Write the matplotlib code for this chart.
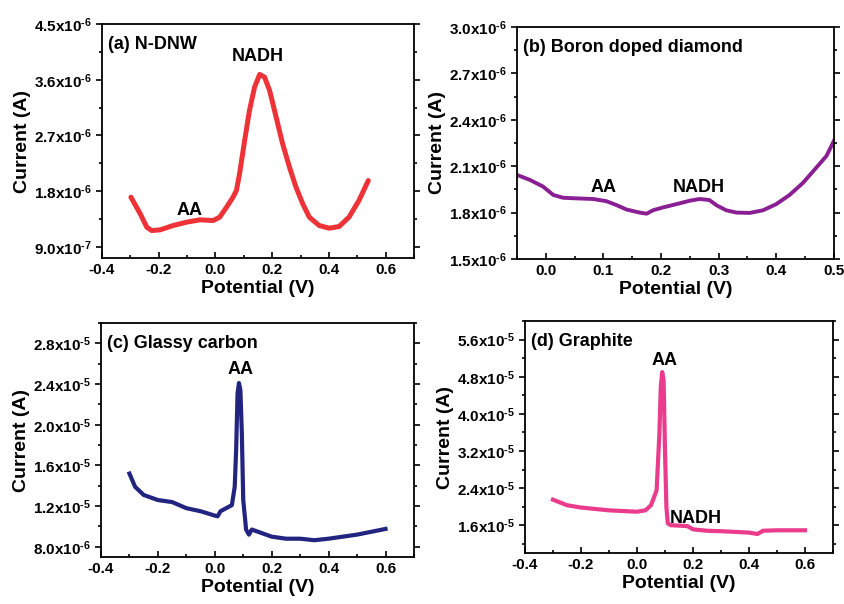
import matplotlib
matplotlib.use("Agg")
from matplotlib import pyplot as plt
from matplotlib.ticker import MultipleLocator, AutoMinorLocator, FuncFormatter

plt.rcParams['font.family'] = ['Liberation Sans', 'DejaVu Sans']
plt.rcParams['font.weight'] = 'bold'
plt.rcParams['mathtext.fontset'] = 'custom'
plt.rcParams['mathtext.rm'] = 'Liberation Sans:bold'
plt.rcParams['mathtext.bf'] = 'Liberation Sans:bold'
plt.rcParams['mathtext.default'] = 'bf'

# (a) N-DNW  (current in 1e-6 A)
a_x = [-0.298, -0.265, -0.242, -0.225, -0.195, -0.149, -0.102, -0.055, -0.008, 0.015,
       0.039, 0.062, 0.074, 0.085, 0.103, 0.120, 0.138, 0.156, 0.173, 0.191, 0.214,
       0.237, 0.261, 0.284, 0.308, 0.331, 0.366, 0.401, 0.436, 0.471, 0.506, 0.539]
a_y = [1.703, 1.433, 1.218, 1.164, 1.175, 1.245, 1.299, 1.337, 1.326, 1.380,
       1.541, 1.703, 1.811, 2.080, 2.619, 3.104, 3.481, 3.686, 3.643, 3.428, 2.996,
       2.565, 2.188, 1.865, 1.595, 1.380, 1.245, 1.202, 1.229, 1.380, 1.649, 1.972]

# (b) Boron doped diamond  (1e-6 A)
b_x = [-0.051, -0.028, -0.005, 0.013, 0.030, 0.053, 0.082, 0.105, 0.123, 0.140, 0.163,
       0.175, 0.186, 0.203, 0.227, 0.250, 0.267, 0.284, 0.296, 0.313, 0.331, 0.354,
       0.377, 0.400, 0.423, 0.446, 0.469, 0.487, 0.500]
b_y = [2.045, 2.012, 1.969, 1.914, 1.896, 1.892, 1.888, 1.874, 1.848, 1.820, 1.800,
       1.793, 1.815, 1.833, 1.855, 1.877, 1.888, 1.881, 1.848, 1.815, 1.800, 1.798,
       1.815, 1.855, 1.914, 1.991, 2.089, 2.166, 2.264]

# (c) Glassy carbon  (1e-6 A)
c_x = [-0.30, -0.28, -0.25, -0.20, -0.15, -0.10, -0.05, 0.00, 0.01, 0.02, 0.04, 0.06,
       0.07, 0.075, 0.08, 0.085, 0.09, 0.095, 0.10, 0.11, 0.12, 0.13, 0.15, 0.20,
       0.25, 0.30, 0.35, 0.40, 0.50, 0.60]
c_y = [15.2, 13.9, 13.1, 12.6, 12.4, 11.8, 11.5, 11.07, 11.0, 11.5, 11.8, 12.1,
       13.9, 17.5, 23.1, 24.1, 23.4, 19.2, 12.6, 9.7, 9.2, 9.7, 9.5, 9.0,
       8.8, 8.8, 8.65, 8.8, 9.2, 9.76]

# (d) Graphite  (1e-5 A)
d_x = [-0.30, -0.25, -0.20, -0.10, 0.00, 0.03, 0.05, 0.07, 0.08, 0.085, 0.09, 0.095,
       0.10, 0.105, 0.11, 0.12, 0.15, 0.18, 0.20, 0.25, 0.30, 0.40, 0.43, 0.45, 0.50, 0.60]
d_y = [2.15, 2.03, 1.98, 1.92, 1.89, 1.92, 2.03, 2.35, 3.57, 4.58, 4.90, 4.72,
       3.21, 1.99, 1.64, 1.60, 1.59, 1.58, 1.51, 1.48, 1.47, 1.44, 1.41, 1.48, 1.49, 1.49]


def sci_fmt(v, pos):
    # pick exponent like the original: mantissa between 1 and 10
    if v == 0:
        return '0'
    exp = 0
    m = abs(v)
    while m >= 10:
        m /= 10
        exp += 1
    while m < 1:
        m *= 10
        exp -= 1
    return '%.1fx10$^{\\text{-}%d}$' % (m, -exp)


def setup(ax, xlim, xstep, ylim, ystep, title):
    ax.set_xlim(*xlim)
    ax.set_ylim(*ylim)
    ax.xaxis.set_major_locator(MultipleLocator(xstep))
    ax.xaxis.set_minor_locator(AutoMinorLocator(2))
    ax.yaxis.set_major_locator(MultipleLocator(ystep))
    ax.yaxis.set_minor_locator(AutoMinorLocator(2))
    ax.yaxis.set_major_formatter(FuncFormatter(sci_fmt))
    ax.xaxis.set_major_formatter(FuncFormatter(lambda v, p: '%.1f' % v))
    ax.tick_params(axis='x', which='both', direction='in', top=False, labelsize=11, width=1.2)
    ax.tick_params(axis='y', which='both', direction='out', right=True, labelsize=11, width=1.2)
    ax.tick_params(which='major', length=4)
    ax.tick_params(which='minor', length=2.5)
    for s in ax.spines.values():
        s.set_linewidth(1.3)
    ax.set_xlabel('Potential (V)', fontsize=14, fontweight='bold', labelpad=2)
    ax.set_ylabel('Current (A)', fontsize=14, fontweight='bold', labelpad=2)
    ax.text(0.02, 0.95, title, transform=ax.transAxes, fontsize=13,
            fontweight='bold', va='top', ha='left')


fig = plt.figure(figsize=(8.45, 6.04), dpi=100)

ax1 = fig.add_axes([0.1207, 0.5728, 0.3692, 0.3874])
ax1.plot(a_x, [v * 1e-6 for v in a_y], color='#ee3338', lw=3.6,
         solid_capstyle='round', solid_joinstyle='round')
setup(ax1, (-0.4, 0.7), 0.2, (0.72e-6, 4.5e-6), 0.9e-6, '(a) N-DNW')
ax1.text(0.15, 3.9e-6, 'NADH', fontsize=13, fontweight='bold', ha='center')
ax1.text(-0.09, 1.42e-6, 'AA', fontsize=13, fontweight='bold', ha='center')

ax2 = fig.add_axes([0.6118, 0.5712, 0.3751, 0.3841])
ax2.plot(b_x, [v * 1e-6 for v in b_y], color='#8a1f93', lw=2.8, solid_joinstyle='round')
setup(ax2, (-0.05, 0.5), 0.1, (1.5e-6, 3.0e-6), 0.3e-6, '(b) Boron doped diamond')
ax2.text(0.1, 1.93e-6, 'AA', fontsize=13, fontweight='bold', ha='center')
ax2.text(0.265, 1.93e-6, 'NADH', fontsize=13, fontweight='bold', ha='center')

ax3 = fig.add_axes([0.1195, 0.0778, 0.3704, 0.3874])
ax3.plot(c_x, [v * 1e-6 for v in c_y], color='#222480', lw=3.0, solid_joinstyle='round')
setup(ax3, (-0.4, 0.7), 0.2, (7e-6, 3.0e-5), 4e-6, '(c) Glassy carbon')
ax3.set_yticks([8e-6, 1.2e-5, 1.6e-5, 2.0e-5, 2.4e-5, 2.8e-5])
ax3.yaxis.set_minor_locator(MultipleLocator(2e-6))
ax3.text(0.09, 2.5e-5, 'AA', fontsize=13, fontweight='bold', ha='center')

ax4 = fig.add_axes([0.6213, 0.0844, 0.3645, 0.3841])
ax4.plot(d_x, [v * 1e-5 for v in d_y], color='#ea3b8c', lw=3.0, solid_joinstyle='round')
setup(ax4, (-0.4, 0.7), 0.2, (1.0e-5, 6.0e-5), 0.8e-5, '(d) Graphite')
ax4.set_yticks([1.6e-5, 2.4e-5, 3.2e-5, 4.0e-5, 4.8e-5, 5.6e-5])
ax4.yaxis.set_minor_locator(MultipleLocator(0.4e-5))
ax4.text(0.1, 5.05e-5, 'AA', fontsize=13, fontweight='bold', ha='center')
ax4.text(0.21, 1.65e-5, 'NADH', fontsize=13, fontweight='bold', ha='center')

fig.savefig('out.png', dpi=100)
